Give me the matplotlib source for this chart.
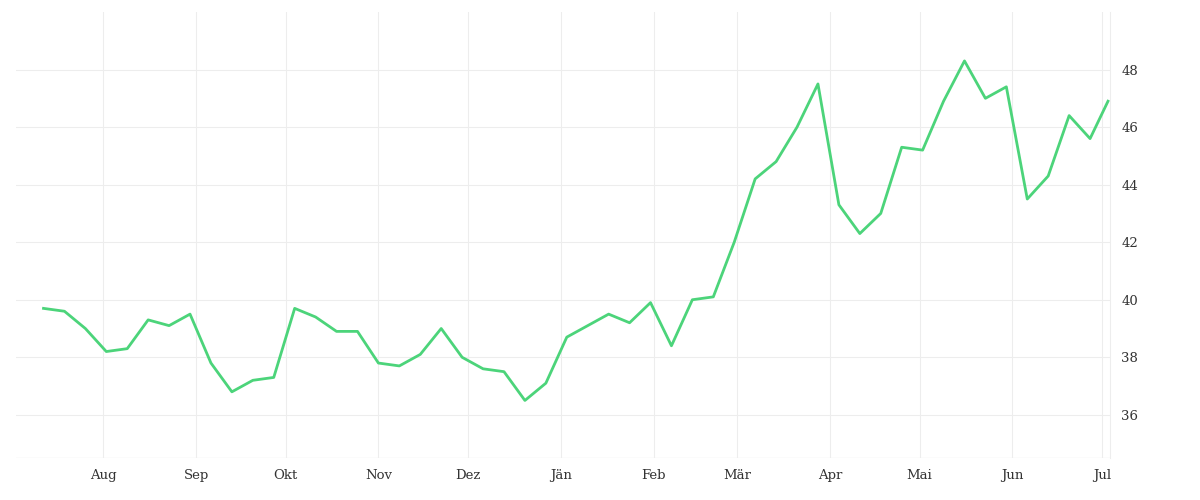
import matplotlib
matplotlib.use("Agg")
import matplotlib.pyplot as plt
import pandas as pd

dates = list(pd.date_range("2022-07-12", periods=51, freq="7D")) + [pd.Timestamp("2023-07-03")]
values = [39.7, 39.6, 39.0, 38.2, 38.3, 39.3, 39.1, 39.5, 37.8, 36.8, 37.2, 37.3,
          39.7, 39.4, 38.9, 38.9, 37.8, 37.7, 38.1, 39.0, 38.0, 37.6, 37.5, 36.5,
          37.1, 38.7, 39.1, 39.5, 39.2, 39.9, 38.4, 40.0, 40.1, 42.0, 44.2, 44.8,
          46.0, 47.5, 43.3, 42.3, 43.0, 45.3, 45.2, 46.9, 48.3, 47.0, 47.4, 43.5,
          44.3, 46.4, 45.6, 46.9]
month_labels = ["Aug", "Sep", "Okt", "Nov", "Dez", "Jän", "Feb", "Mär", "Apr", "Mai", "Jun", "Jul"]
month_ticks = pd.date_range("2022-08-01", periods=12, freq="MS")

plt.rcParams['font.family'] = ['DejaVu Serif']
fig = plt.figure(figsize=(12, 5), dpi=100)
ax = fig.add_axes([0.013, 0.084, 0.912, 0.892])
ax.plot(dates, values, color="#4cd47a", lw=2.0)
ax.set_ylim(34.5, 50.0)
ax.set_xlim(pd.Timestamp("2022-07-02 16:00"), pd.Timestamp("2023-07-03 16:00"))
ax.set_yticks([36, 38, 40, 42, 44, 46, 48])
ax.yaxis.tick_right()
ax.set_xticks(month_ticks)
ax.set_xticklabels(month_labels)
ax.grid(True, color="#ededed", lw=0.8)
for s in ["top", "left", "bottom"]:
    ax.spines[s].set_visible(False)
ax.spines["right"].set_color("#ededed")
ax.axhline(34.5, color="#ededed", lw=1)
ax.tick_params(length=0, labelsize=9.5, colors="#333333", pad=8)
fig.savefig("out.png")
